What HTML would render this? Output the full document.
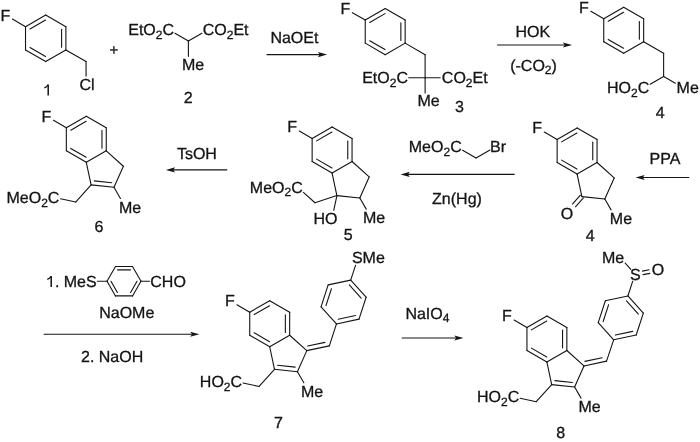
<!DOCTYPE html>
<html>
<head>
<meta charset="utf-8">
<title>Sulindac synthesis</title>
<style>
html, body { margin: 0; padding: 0; background: #ffffff; }
body { width: 700px; height: 442px; overflow: hidden; font-family: "Liberation Sans", sans-serif; }
svg { display: block; will-change: transform; }
svg text { font-family: "Liberation Sans", sans-serif; fill: #141414; stroke: #141414; stroke-width: 0.3px; text-rendering: geometricPrecision; }
</style>
</head>
<body>
<svg width="700" height="442" viewBox="0 0 700 442" stroke="#141414" stroke-width="1.1" stroke-linecap="round" fill="none">
<rect x="0" y="0" width="700" height="442" fill="#ffffff" stroke="none"/>
<line x1="45.70" y1="15.00" x2="65.88" y2="26.65"/>
<line x1="65.88" y1="26.65" x2="65.88" y2="49.95"/>
<line x1="65.88" y1="49.95" x2="45.70" y2="61.60"/>
<line x1="45.70" y1="61.60" x2="25.52" y2="49.95"/>
<line x1="25.52" y1="49.95" x2="25.52" y2="26.65"/>
<line x1="25.52" y1="26.65" x2="45.70" y2="15.00"/>
<line x1="29.98" y1="29.04" x2="45.54" y2="20.06"/>
<line x1="61.58" y1="29.32" x2="61.58" y2="47.28"/>
<line x1="45.54" y1="56.54" x2="29.98" y2="47.56"/>
<line x1="25.52" y1="26.65" x2="12.44" y2="19.10"/>
<text x="0.44" y="20.50" text-anchor="start" font-size="16.0">F</text>
<line x1="65.88" y1="49.95" x2="86.06" y2="61.60"/>
<line x1="86.06" y1="61.60" x2="86.06" y2="76.10"/>
<text x="79.46" y="90.40" text-anchor="start" font-size="16.0">Cl</text>
<path d="M44.30,87.90 Q46.70,86.90 48.10,84.80" stroke-width="1.25" stroke-linecap="butt"/>
<line x1="48.20" y1="84.60" x2="48.20" y2="95.61" stroke-width="1.5" stroke-linecap="butt"/>
<text x="113.80" y="55.06" text-anchor="middle" font-size="15">+</text>
<line x1="188.40" y1="41.10" x2="174.93" y2="33.33"/>
<line x1="188.40" y1="41.10" x2="201.87" y2="33.33"/>
<line x1="188.40" y1="41.10" x2="188.40" y2="56.35"/>
<text x="174.04" y="35.08" text-anchor="end" font-size="16.0">EtO<tspan dy="3.52" font-size="12.00">2</tspan><tspan dy="-3.52">C</tspan></text>
<text x="202.76" y="35.08" text-anchor="start" font-size="16.0">CO<tspan dy="3.52" font-size="12.00">2</tspan><tspan dy="-3.52">Et</tspan></text>
<text x="181.90" y="69.65" text-anchor="start" font-size="16.0">Me</text>
<text x="188.10" y="103.20" text-anchor="middle" font-size="16.0">2</text>
<text x="270.40" y="42.90" text-anchor="start" font-size="16.0">NaOEt</text>
<line x1="267.00" y1="54.60" x2="320.66" y2="54.60"/>
<polygon points="327.10,54.60 317.90,57.15 319.74,54.60 317.90,52.05" fill="#141414" stroke="none"/>
<line x1="385.20" y1="8.55" x2="405.16" y2="20.08"/>
<line x1="405.16" y1="20.08" x2="405.16" y2="43.12"/>
<line x1="405.16" y1="43.12" x2="385.20" y2="54.65"/>
<line x1="385.20" y1="54.65" x2="365.24" y2="43.12"/>
<line x1="365.24" y1="43.12" x2="365.24" y2="20.07"/>
<line x1="365.24" y1="20.07" x2="385.20" y2="8.55"/>
<line x1="369.70" y1="22.47" x2="385.04" y2="13.61"/>
<line x1="400.86" y1="22.74" x2="400.86" y2="40.46"/>
<line x1="385.04" y1="49.59" x2="369.70" y2="40.73"/>
<line x1="365.24" y1="20.07" x2="352.38" y2="12.65"/>
<text x="340.38" y="14.05" text-anchor="start" font-size="16.0">F</text>
<line x1="405.16" y1="43.12" x2="425.12" y2="54.65"/>
<line x1="425.12" y1="54.65" x2="425.12" y2="77.70"/>
<line x1="425.12" y1="77.70" x2="425.12" y2="92.95"/>
<line x1="425.12" y1="77.70" x2="408.67" y2="77.70"/>
<line x1="425.12" y1="77.70" x2="440.17" y2="77.70"/>
<text x="407.97" y="83.20" text-anchor="end" font-size="16.0">EtO<tspan dy="3.52" font-size="12.00">2</tspan><tspan dy="-3.52">C</tspan></text>
<text x="441.87" y="83.20" text-anchor="start" font-size="16.0">CO<tspan dy="3.52" font-size="12.00">2</tspan><tspan dy="-3.52">Et</tspan></text>
<text x="417.42" y="106.25" text-anchor="start" font-size="16.0">Me</text>
<text x="459.50" y="111.90" text-anchor="middle" font-size="16.0">3</text>
<line x1="497.50" y1="45.00" x2="565.66" y2="45.00"/>
<polygon points="572.10,45.00 562.90,47.55 564.74,45.00 562.90,42.45" fill="#141414" stroke="none"/>
<text x="515.50" y="36.60" text-anchor="start" font-size="16.0">HOK</text>
<text x="510.20" y="70.70" text-anchor="start" font-size="16.0">(-CO<tspan dy="3.52" font-size="12.00">2</tspan><tspan dy="-3.52">)</tspan></text>
<line x1="623.70" y1="7.25" x2="643.66" y2="18.78"/>
<line x1="643.66" y1="18.78" x2="643.66" y2="41.83"/>
<line x1="643.66" y1="41.83" x2="623.70" y2="53.35"/>
<line x1="623.70" y1="53.35" x2="603.74" y2="41.83"/>
<line x1="603.74" y1="41.83" x2="603.74" y2="18.77"/>
<line x1="603.74" y1="18.77" x2="623.70" y2="7.25"/>
<line x1="608.20" y1="21.17" x2="623.54" y2="12.31"/>
<line x1="639.36" y1="21.44" x2="639.36" y2="39.16"/>
<line x1="623.54" y1="48.29" x2="608.20" y2="39.43"/>
<line x1="603.74" y1="18.77" x2="590.88" y2="11.35"/>
<text x="578.88" y="12.75" text-anchor="start" font-size="16.0">F</text>
<line x1="643.66" y1="41.83" x2="663.62" y2="53.35"/>
<line x1="663.62" y1="53.35" x2="663.62" y2="76.40"/>
<line x1="663.62" y1="76.40" x2="675.36" y2="83.18"/>
<line x1="663.62" y1="76.40" x2="650.16" y2="84.18"/>
<text x="676.59" y="93.43" text-anchor="start" font-size="16.0">Me</text>
<text x="649.26" y="93.43" text-anchor="end" font-size="16.0">HO<tspan dy="3.52" font-size="12.00">2</tspan><tspan dy="-3.52">C</tspan></text>
<text x="660.20" y="118.30" text-anchor="middle" font-size="16.0">4</text>
<line x1="86.30" y1="116.25" x2="106.26" y2="127.78"/>
<line x1="106.26" y1="127.78" x2="106.26" y2="150.83"/>
<line x1="106.26" y1="150.83" x2="86.30" y2="162.35"/>
<line x1="86.30" y1="162.35" x2="66.34" y2="150.83"/>
<line x1="66.34" y1="150.83" x2="66.34" y2="127.78"/>
<line x1="66.34" y1="127.78" x2="86.30" y2="116.25"/>
<line x1="70.80" y1="130.17" x2="86.14" y2="121.31"/>
<line x1="101.96" y1="130.44" x2="101.96" y2="148.16"/>
<line x1="86.14" y1="157.29" x2="70.80" y2="148.43"/>
<line x1="66.34" y1="127.78" x2="53.48" y2="120.35"/>
<text x="41.48" y="121.75" text-anchor="start" font-size="16.0">F</text>
<line x1="106.26" y1="150.83" x2="123.39" y2="166.25"/>
<line x1="123.39" y1="166.25" x2="114.02" y2="187.31"/>
<line x1="114.02" y1="187.31" x2="91.09" y2="184.90"/>
<line x1="91.09" y1="184.90" x2="86.30" y2="162.35"/>
<line x1="111.81" y1="182.75" x2="94.19" y2="180.90"/>
<line x1="114.02" y1="187.31" x2="120.44" y2="198.43"/>
<text x="119.04" y="212.77" text-anchor="start" font-size="16.0">Me</text>
<line x1="91.09" y1="184.90" x2="75.67" y2="202.03"/>
<line x1="75.67" y1="202.03" x2="60.56" y2="198.81"/>
<text x="59.42" y="203.04" text-anchor="end" font-size="16.0">MeO<tspan dy="3.52" font-size="12.00">2</tspan><tspan dy="-3.52">C</tspan></text>
<text x="98.90" y="231.50" text-anchor="middle" font-size="16.0">6</text>
<line x1="226.80" y1="169.90" x2="172.34" y2="169.90"/>
<polygon points="165.90,169.90 175.10,167.35 173.26,169.90 175.10,172.45" fill="#141414" stroke="none"/>
<text x="176.90" y="158.90" text-anchor="start" font-size="16.0">TsOH</text>
<line x1="332.10" y1="126.95" x2="352.06" y2="138.47"/>
<line x1="352.06" y1="138.47" x2="352.06" y2="161.53"/>
<line x1="352.06" y1="161.53" x2="332.10" y2="173.05"/>
<line x1="332.10" y1="173.05" x2="312.14" y2="161.53"/>
<line x1="312.14" y1="161.53" x2="312.14" y2="138.47"/>
<line x1="312.14" y1="138.47" x2="332.10" y2="126.95"/>
<line x1="316.60" y1="140.87" x2="331.94" y2="132.01"/>
<line x1="347.76" y1="141.14" x2="347.76" y2="158.86"/>
<line x1="331.94" y1="167.99" x2="316.60" y2="159.13"/>
<line x1="312.14" y1="138.47" x2="299.28" y2="131.05"/>
<text x="287.28" y="132.45" text-anchor="start" font-size="16.0">F</text>
<line x1="352.06" y1="161.53" x2="369.19" y2="176.95"/>
<line x1="369.19" y1="176.95" x2="359.82" y2="198.01"/>
<line x1="359.82" y1="198.01" x2="336.89" y2="195.60"/>
<line x1="336.89" y1="195.60" x2="332.10" y2="173.05"/>
<line x1="359.82" y1="198.01" x2="366.24" y2="209.13"/>
<text x="362.94" y="223.47" text-anchor="start" font-size="16.0">Me</text>
<line x1="336.89" y1="195.60" x2="333.76" y2="210.32"/>
<text x="337.50" y="223.65" text-anchor="end" font-size="16.0">HO</text>
<line x1="336.89" y1="195.60" x2="314.97" y2="202.72"/>
<line x1="314.97" y1="202.72" x2="303.41" y2="192.31"/>
<text x="302.74" y="192.80" text-anchor="end" font-size="16.0">MeO<tspan dy="3.52" font-size="12.00">2</tspan><tspan dy="-3.52">C</tspan></text>
<text x="348.30" y="239.80" text-anchor="middle" font-size="16.0">5</text>
<line x1="514.20" y1="174.40" x2="407.04" y2="174.40"/>
<polygon points="400.60,174.40 409.80,171.85 407.96,174.40 409.80,176.95" fill="#141414" stroke="none"/>
<text x="461.70" y="152.00" text-anchor="end" font-size="16.0">MeO<tspan dy="3.52" font-size="12.00">2</tspan><tspan dy="-3.52">C</tspan></text>
<line x1="462.60" y1="150.25" x2="476.06" y2="158.03"/>
<line x1="476.06" y1="158.03" x2="489.96" y2="150.00"/>
<text x="490.02" y="152.00" text-anchor="start" font-size="16.0">Br</text>
<text x="432.10" y="203.80" text-anchor="start" font-size="16.0">Zn(Hg)</text>
<line x1="577.10" y1="127.95" x2="597.06" y2="139.47"/>
<line x1="597.06" y1="139.47" x2="597.06" y2="162.53"/>
<line x1="597.06" y1="162.53" x2="577.10" y2="174.05"/>
<line x1="577.10" y1="174.05" x2="557.14" y2="162.53"/>
<line x1="557.14" y1="162.53" x2="557.14" y2="139.47"/>
<line x1="557.14" y1="139.47" x2="577.10" y2="127.95"/>
<line x1="561.60" y1="141.87" x2="576.94" y2="133.01"/>
<line x1="592.76" y1="142.14" x2="592.76" y2="159.86"/>
<line x1="576.94" y1="168.99" x2="561.60" y2="160.13"/>
<line x1="557.14" y1="139.47" x2="544.28" y2="132.05"/>
<text x="532.28" y="133.45" text-anchor="start" font-size="16.0">F</text>
<line x1="597.06" y1="162.53" x2="614.19" y2="177.95"/>
<line x1="614.19" y1="177.95" x2="604.82" y2="199.01"/>
<line x1="604.82" y1="199.01" x2="581.89" y2="196.60"/>
<line x1="581.89" y1="196.60" x2="577.10" y2="174.05"/>
<line x1="604.82" y1="199.01" x2="611.09" y2="209.87"/>
<text x="609.84" y="224.17" text-anchor="start" font-size="16.0">Me</text>
<line x1="580.37" y1="195.22" x2="572.44" y2="204.03"/>
<line x1="583.42" y1="197.97" x2="575.49" y2="206.77"/>
<text x="567.07" y="218.93" text-anchor="middle" font-size="16.0">O</text>
<text x="590.20" y="240.60" text-anchor="middle" font-size="16.0">4</text>
<line x1="688.90" y1="177.50" x2="641.94" y2="177.50"/>
<polygon points="635.50,177.50 644.70,174.95 642.86,177.50 644.70,180.05" fill="#141414" stroke="none"/>
<text x="649.60" y="164.00" text-anchor="start" font-size="16.0">PPA</text>
<path d="M47.30,279.40 Q49.70,278.40 51.10,276.30" stroke-width="1.25" stroke-linecap="butt"/>
<line x1="51.20" y1="276.10" x2="51.20" y2="287.11" stroke-width="1.5" stroke-linecap="butt"/>
<text x="54.90" y="287.10" text-anchor="start" font-size="16.0">. MeS</text>
<line x1="107.00" y1="281.20" x2="115.50" y2="266.48"/>
<line x1="115.50" y1="266.48" x2="132.50" y2="266.48"/>
<line x1="132.50" y1="266.48" x2="141.00" y2="281.20"/>
<line x1="141.00" y1="281.20" x2="132.50" y2="295.92"/>
<line x1="132.50" y1="295.92" x2="115.50" y2="295.92"/>
<line x1="115.50" y1="295.92" x2="107.00" y2="281.20"/>
<line x1="117.61" y1="269.88" x2="130.39" y2="269.88"/>
<line x1="137.00" y1="281.33" x2="130.61" y2="292.40"/>
<line x1="117.39" y1="292.40" x2="111.00" y2="281.33"/>
<line x1="97.40" y1="281.20" x2="107.00" y2="281.20"/>
<line x1="141.00" y1="281.20" x2="149.60" y2="281.20"/>
<text x="150.30" y="287.10" text-anchor="start" font-size="16.0">CHO</text>
<text x="99.20" y="317.90" text-anchor="start" font-size="16.0">NaOMe</text>
<line x1="44.10" y1="334.20" x2="192.96" y2="334.20"/>
<polygon points="199.40,334.20 190.20,336.75 192.04,334.20 190.20,331.65" fill="#141414" stroke="none"/>
<text x="81.00" y="361.90" text-anchor="start" font-size="16.0">2. NaOH</text>
<line x1="269.70" y1="300.65" x2="289.66" y2="312.18"/>
<line x1="289.66" y1="312.18" x2="289.66" y2="335.22"/>
<line x1="289.66" y1="335.22" x2="269.70" y2="346.75"/>
<line x1="269.70" y1="346.75" x2="249.74" y2="335.22"/>
<line x1="249.74" y1="335.22" x2="249.74" y2="312.18"/>
<line x1="249.74" y1="312.18" x2="269.70" y2="300.65"/>
<line x1="254.20" y1="314.57" x2="269.54" y2="305.71"/>
<line x1="285.36" y1="314.84" x2="285.36" y2="332.56"/>
<line x1="269.54" y1="341.69" x2="254.20" y2="332.83"/>
<line x1="249.74" y1="312.18" x2="236.88" y2="304.75"/>
<text x="224.88" y="306.15" text-anchor="start" font-size="16.0">F</text>
<line x1="289.66" y1="335.22" x2="306.79" y2="350.65"/>
<line x1="306.79" y1="350.65" x2="297.42" y2="371.71"/>
<line x1="297.42" y1="371.71" x2="274.49" y2="369.30"/>
<line x1="274.49" y1="369.30" x2="269.70" y2="346.75"/>
<line x1="295.21" y1="367.15" x2="277.59" y2="365.30"/>
<line x1="297.42" y1="371.71" x2="303.84" y2="382.83"/>
<text x="301.04" y="397.17" text-anchor="start" font-size="16.0">Me</text>
<line x1="274.49" y1="369.30" x2="259.07" y2="386.43"/>
<line x1="259.07" y1="386.43" x2="242.98" y2="383.01"/>
<text x="242.12" y="387.14" text-anchor="end" font-size="16.0">HO<tspan dy="3.52" font-size="12.00">2</tspan><tspan dy="-3.52">C</tspan></text>
<line x1="306.79" y1="350.65" x2="329.34" y2="345.86"/>
<line x1="307.66" y1="346.07" x2="324.92" y2="342.40"/>
<line x1="329.34" y1="345.86" x2="336.46" y2="323.93"/>
<line x1="336.46" y1="323.93" x2="321.04" y2="306.80"/>
<line x1="321.04" y1="306.80" x2="328.16" y2="284.88"/>
<line x1="328.16" y1="284.88" x2="350.71" y2="280.09"/>
<line x1="350.71" y1="280.09" x2="366.13" y2="297.22"/>
<line x1="366.13" y1="297.22" x2="359.01" y2="319.14"/>
<line x1="359.01" y1="319.14" x2="336.46" y2="323.93"/>
<line x1="325.95" y1="305.60" x2="331.43" y2="288.75"/>
<line x1="349.29" y1="284.95" x2="361.15" y2="298.12"/>
<line x1="355.51" y1="315.49" x2="338.17" y2="319.17"/>
<line x1="350.71" y1="280.09" x2="355.51" y2="265.30"/>
<text x="351.93" y="263.27" text-anchor="start" font-size="16.0">SMe</text>
<text x="278.40" y="427.80" text-anchor="middle" font-size="16.0">7</text>
<text x="405.40" y="318.90" text-anchor="start" font-size="16.0">NaIO<tspan dy="3.52" font-size="12.00">4</tspan></text>
<line x1="402.20" y1="338.00" x2="457.06" y2="338.00"/>
<polygon points="463.50,338.00 454.30,340.55 456.14,338.00 454.30,335.45" fill="#141414" stroke="none"/>
<line x1="546.90" y1="315.95" x2="566.86" y2="327.48"/>
<line x1="566.86" y1="327.48" x2="566.86" y2="350.52"/>
<line x1="566.86" y1="350.52" x2="546.90" y2="362.05"/>
<line x1="546.90" y1="362.05" x2="526.94" y2="350.52"/>
<line x1="526.94" y1="350.52" x2="526.94" y2="327.48"/>
<line x1="526.94" y1="327.48" x2="546.90" y2="315.95"/>
<line x1="531.40" y1="329.87" x2="546.74" y2="321.01"/>
<line x1="562.56" y1="330.14" x2="562.56" y2="347.86"/>
<line x1="546.74" y1="356.99" x2="531.40" y2="348.13"/>
<line x1="526.94" y1="327.48" x2="514.08" y2="320.05"/>
<text x="502.08" y="321.45" text-anchor="start" font-size="16.0">F</text>
<line x1="566.86" y1="350.53" x2="583.99" y2="365.95"/>
<line x1="583.99" y1="365.95" x2="574.62" y2="387.01"/>
<line x1="574.62" y1="387.01" x2="551.69" y2="384.60"/>
<line x1="551.69" y1="384.60" x2="546.90" y2="362.05"/>
<line x1="572.41" y1="382.45" x2="554.79" y2="380.60"/>
<line x1="574.62" y1="387.01" x2="581.04" y2="398.13"/>
<text x="578.44" y="412.47" text-anchor="start" font-size="16.0">Me</text>
<line x1="551.69" y1="384.60" x2="536.27" y2="401.73"/>
<line x1="536.27" y1="401.73" x2="520.18" y2="398.31"/>
<text x="519.32" y="402.44" text-anchor="end" font-size="16.0">HO<tspan dy="3.52" font-size="12.00">2</tspan><tspan dy="-3.52">C</tspan></text>
<line x1="583.99" y1="365.95" x2="606.54" y2="361.16"/>
<line x1="584.86" y1="361.37" x2="602.12" y2="357.70"/>
<line x1="606.54" y1="361.16" x2="613.66" y2="339.83"/>
<line x1="613.66" y1="339.83" x2="598.24" y2="322.70"/>
<line x1="598.24" y1="322.70" x2="605.36" y2="300.78"/>
<line x1="605.36" y1="300.78" x2="627.91" y2="295.99"/>
<line x1="627.91" y1="295.99" x2="643.33" y2="313.12"/>
<line x1="643.33" y1="313.12" x2="636.21" y2="335.04"/>
<line x1="636.21" y1="335.04" x2="613.66" y2="339.83"/>
<line x1="603.15" y1="321.50" x2="608.63" y2="304.65"/>
<line x1="626.49" y1="300.85" x2="638.35" y2="314.02"/>
<line x1="632.71" y1="331.39" x2="615.37" y2="335.07"/>
<line x1="627.91" y1="295.99" x2="632.71" y2="281.20"/>
<text x="635.33" y="279.87" text-anchor="middle" font-size="16.0">S</text>
<line x1="643.13" y1="274.66" x2="649.79" y2="273.35"/>
<line x1="642.44" y1="271.13" x2="649.09" y2="269.82"/>
<text x="658.08" y="275.38" text-anchor="middle" font-size="16.0">O</text>
<line x1="630.80" y1="269.30" x2="625.20" y2="263.03"/>
<text x="624.21" y="262.94" text-anchor="end" font-size="16.0">Me</text>
<text x="560.60" y="437.70" text-anchor="middle" font-size="16.0">8</text>
</svg>
</body>
</html>
